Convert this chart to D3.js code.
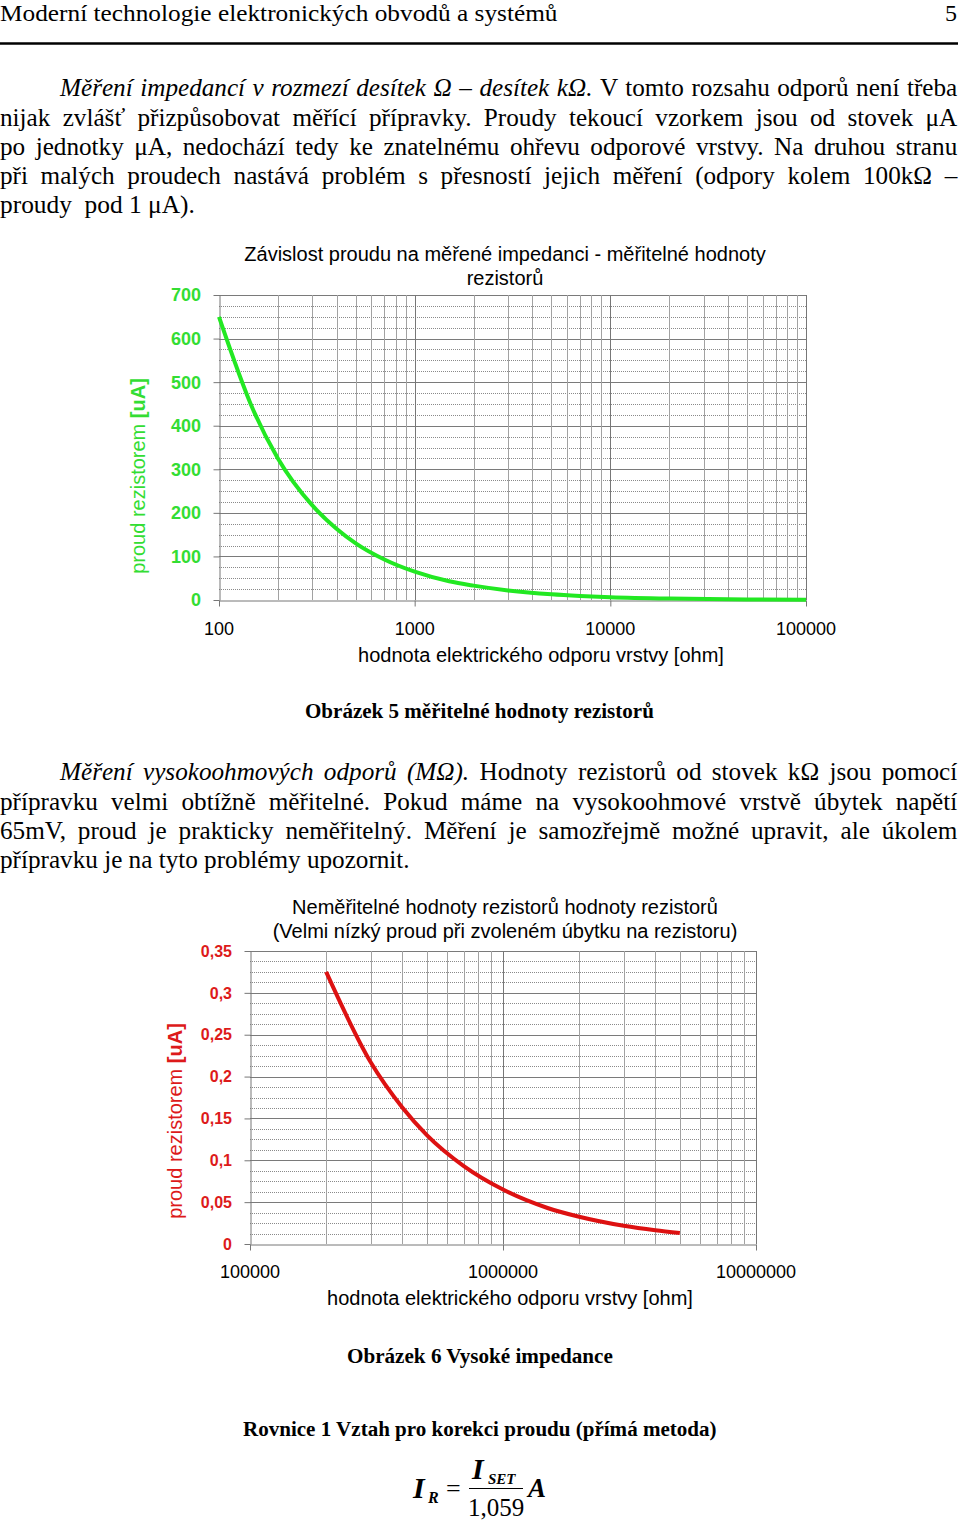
<!DOCTYPE html>
<html><head><meta charset="utf-8">
<script src="https://cdn.jsdelivr.net/npm/d3@7"></script>
<style>body{margin:0;background:#fff}svg{display:block}</style>
</head><body>
<svg id="page" width="960" height="1523"></svg>
<script>
// ---------- data ----------
const c1Resistance = [100,150,200,300,400,500,700,1000,1500,2000,3000,5000,7000,10000,20000,50000,100000];
const c1Current    = [650,435,325,217,163,130,93,65,43,33,22,13,9.3,6.5,3.3,1.3,0.65];
const c1YTicks     = [0,100,200,300,400,500,600,700];
const c1YLabels    = ["0","100","200","300","400","500","600","700"];
const c1XTicks     = [100,1000,10000,100000];
const c1XLabels    = ["100","1000","10000","100000"];

const c2Resistance = [200000,300000,400000,500000,700000,1000000,1500000,2000000,3000000,4000000,5000000];
const c2Current    = [0.325,0.217,0.163,0.13,0.093,0.065,0.043,0.0325,0.0217,0.0163,0.013];
const c2YTicks     = [0,0.05,0.1,0.15,0.2,0.25,0.3,0.35];
const c2YLabels    = ["0","0,05","0,1","0,15","0,2","0,25","0,3","0,35"];
const c2XTicks     = [100000,1000000,10000000];
const c2XLabels    = ["100000","1000000","10000000"];

const headerText = "Moderní technologie elektronických obvodů a systémů";
const para1 = [
  [{t:"Měření impedancí v rozmezí desítek Ω – desítek kΩ.", i:true},{t:" V tomto rozsahu odporů není třeba"}],
  [{t:"nijak zvlášť přizpůsobovat měřící přípravky. Proudy tekoucí vzorkem jsou od stovek μA"}],
  [{t:"po jednotky μA, nedochází tedy ke znatelnému ohřevu odporové vrstvy. Na druhou stranu"}],
  [{t:"při malých proudech nastává problém s přesností jejich měření (odpory kolem 100kΩ –"}],
  [{t:"proudy  pod 1 μA)."}]
];
const para2 = [
  [{t:"Měření vysokoohmových odporů (MΩ).", i:true},{t:" Hodnoty rezistorů od stovek kΩ jsou pomocí"}],
  [{t:"přípravku velmi obtížně měřitelné. Pokud máme na vysokoohmové vrstvě úbytek napětí"}],
  [{t:"65mV, proud je prakticky neměřitelný. Měření je samozřejmě možné upravit, ale úkolem"}],
  [{t:"přípravku je na tyto problémy upozornit."}]
];

// ---------- helpers ----------
const svg = d3.select("#page");
const SERIF = "Liberation Serif, Times New Roman, serif";
const SANS = "Liberation Sans, Arial, sans-serif";

function makeText(parent, spans, size, weight, y, family) {
  const g = parent.append("g");
  const t = g.append("text").attr("font-family", family || SERIF).attr("font-size", size)
    .attr("font-weight", weight || "normal").attr("y", y).attr("fill", "#000")
    .style("white-space", "pre");
  spans.forEach(s => t.append("tspan").attr("font-style", s.i ? "italic" : null).text(s.t));
  return {g, t, w: t.node().getComputedTextLength()};
}
function fitLine(spans, x0, width, y, size, weight) {
  const o = makeText(svg, spans, size, weight, y);
  const sx = width / o.w;
  o.g.attr("transform", `translate(${x0},0) scale(${sx},1)`);
  return sx;
}
let SXG = 1;
function justifyLine(spans, x0, width, y, size) {
  const o = makeText(svg, spans, size, "normal", y);
  const full = spans.map(s => s.t).join("");
  const n = (full.match(/ /g) || []).length;
  let sx = SXG, ws = (width / sx - o.w) / n;
  if (ws < 0) { sx = width / o.w; ws = 0; }
  o.t.attr("word-spacing", ws);
  o.g.attr("transform", `translate(${x0},0) scale(${sx},1)`);
}

// ---------- document text ----------
const BODY = 26;
fitLine([{t:headerText}], 0, 558, 21, 24);
svg.append("text").attr("x", 957).attr("y", 21).attr("text-anchor", "end")
  .attr("font-family", SERIF).attr("font-size", 24).text("5");
svg.append("line").attr("x1", 0).attr("x2", 958).attr("y1", 43.5).attr("y2", 43.5)
  .attr("stroke", "#000").attr("stroke-width", 2.5);

const p2Base = [780, 810, 839, 868];
SXG = fitLine(para2[3], 0, 410, p2Base[3], BODY);

const p1Base = [96, 126, 155, 184, 213];
justifyLine(para1[0], 60, 898, p1Base[0], BODY);
justifyLine(para1[1], 0, 958, p1Base[1], BODY);
justifyLine(para1[2], 0, 958, p1Base[2], BODY);
justifyLine(para1[3], 0, 958, p1Base[3], BODY);
fitLine(para1[4], 0, 195, p1Base[4], BODY);

fitLine([{t:"Obrázek 5 měřitelné hodnoty rezistorů"}], 305, 349, 718, 20, "bold");

justifyLine(para2[0], 60, 898, p2Base[0], BODY);
justifyLine(para2[1], 0, 958, p2Base[1], BODY);
justifyLine(para2[2], 0, 958, p2Base[2], BODY);

fitLine([{t:"Obrázek 6 Vysoké impedance"}], 347, 266, 1363, 20, "bold");
fitLine([{t:"Rovnice 1 Vztah pro korekci proudu (přímá metoda)"}], 243, 474, 1436, 20, "bold");

// equation
const eq = svg.append("g").attr("font-family", SERIF);
eq.append("text").attr("x", 413).attr("y", 1498).attr("font-size", 30).attr("font-weight", "bold").attr("font-style", "italic").text("I");
eq.append("text").attr("x", 428).attr("y", 1503).attr("font-size", 16).attr("font-weight", "bold").attr("font-style", "italic").text("R");
eq.append("text").attr("x", 446).attr("y", 1497).attr("font-size", 26).text("=");
eq.append("text").attr("x", 472).attr("y", 1479).attr("font-size", 30).attr("font-weight", "bold").attr("font-style", "italic").text("I");
eq.append("text").attr("x", 488).attr("y", 1484).attr("font-size", 15).attr("font-weight", "bold").attr("font-style", "italic").text("SET");
eq.append("line").attr("x1", 469).attr("x2", 523).attr("y1", 1488.5).attr("y2", 1488.5).attr("stroke", "#000").attr("stroke-width", 1.2);
eq.append("text").attr("x", 496).attr("y", 1516).attr("font-size", 25).attr("text-anchor", "middle").text("1,059");
eq.append("text").attr("x", 528).attr("y", 1497).attr("font-size", 27).attr("font-weight", "bold").attr("font-style", "italic").text("A");

// ---------- charts ----------
function drawChart(cfg) {
  const g = svg.append("g");
  const x = d3.scaleLog().domain(cfg.xDomain).range([cfg.left, cfg.right]);
  const y = d3.scaleLinear().domain([0, cfg.yMax]).range([cfg.bottom, cfg.top]);
  const crisp = v => Math.round(v) + 0.5;

  const nMinor = Math.round(cfg.yMax / cfg.yMinor);
  const per = Math.round(cfg.yMajor / cfg.yMinor);
  for (let i = 1; i <= nMinor; i++) {
    const v = i * cfg.yMinor, yy = crisp(y(v));
    const major = i % per === 0;
    g.append("line").attr("x1", cfg.left).attr("x2", cfg.right).attr("y1", yy).attr("y2", yy)
      .attr("stroke", major ? "#7a7a7a" : "#8a8a8a").attr("stroke-width", 1)
      .attr("stroke-dasharray", major ? null : "1,1");
  }
  const e0 = Math.round(Math.log10(cfg.xDomain[0])), e1 = Math.round(Math.log10(cfg.xDomain[1]));
  for (let e = e0; e <= e1; e++) {
    for (let k = 1; k <= 9; k++) {
      const v = k * Math.pow(10, e);
      if (v > cfg.xDomain[1] * 1.0001) break;
      if (e === e0 && k === 1) continue;
      const xx = crisp(x(v));
      g.append("line").attr("x1", xx).attr("x2", xx).attr("y1", cfg.top).attr("y2", cfg.bottom)
        .attr("stroke", k === 1 ? "#777" : "#a2a2a2").attr("stroke-width", 1);
    }
  }
  const ya = g.append("g").attr("transform", `translate(${crisp(cfg.left)},0)`)
    .call(d3.axisLeft(y).tickValues(cfg.yTicks).tickSize(6).tickFormat("").tickSizeOuter(0));
  ya.select(".domain").attr("stroke", "#777");
  ya.selectAll(".tick line").attr("stroke", "#777");
  const xa = g.append("g").attr("transform", `translate(0,${crisp(cfg.bottom)})`)
    .call(d3.axisBottom(x).tickValues(cfg.xTicks).tickSize(6).tickFormat("").tickSizeOuter(0));
  xa.select(".domain").attr("stroke", "#777");
  xa.selectAll(".tick line").attr("stroke", "#777");

  g.selectAll(".ylab").data(cfg.yTicks).enter().append("text")
    .attr("x", cfg.left - 18).attr("y", d => y(d)).attr("dy", "0.36em")
    .attr("text-anchor", "end").attr("font-family", SANS).attr("font-weight", "bold")
    .attr("font-size", cfg.yLabSize).attr("fill", cfg.labColor)
    .text((d, i) => cfg.yLabels[i]);
  g.selectAll(".xlab").data(cfg.xTicks).enter().append("text")
    .attr("x", d => x(d)).attr("y", cfg.bottom + cfg.xLabOff)
    .attr("text-anchor", "middle").attr("font-family", SANS).attr("font-size", 18).attr("fill", "#000")
    .text((d, i) => cfg.xLabels[i]);
  g.append("text").attr("x", cfg.xTitleX).attr("y", cfg.bottom + cfg.xTitleOff)
    .attr("text-anchor", "middle").attr("font-family", SANS).attr("font-size", 20).attr("fill", "#000")
    .text("hodnota elektrického odporu vrstvy [ohm]");
  const yt = g.append("text").attr("transform", `translate(${cfg.yTitleX},${cfg.yTitleY}) rotate(-90)`)
    .attr("text-anchor", "middle").attr("font-family", SANS).attr("font-size", 20).attr("fill", cfg.labColor);
  yt.append("tspan").text("proud rezistorem ");
  yt.append("tspan").attr("font-weight", "bold").text("[uA]");
  cfg.title.forEach((t, i) => {
    g.append("text").attr("x", cfg.titleX).attr("y", cfg.titleY + i * 24)
      .attr("text-anchor", "middle").attr("font-family", SANS).attr("font-size", 20).attr("fill", "#000").text(t);
  });
  const pts = cfg.rs.map((r, i) => ({r, v: cfg.vs[i]}));
  g.append("path").datum(pts)
    .attr("d", d3.line().x(d => x(d.r)).y(d => y(d.v)).curve(d3.curveMonotoneX))
    .attr("fill", "none").attr("stroke", cfg.lineColor).attr("stroke-width", 4)
    .attr("stroke-linecap", "butt").attr("stroke-linejoin", "round");
}

drawChart({
  xDomain: [100, 100000], left: 219, right: 806, top: 295, bottom: 600,
  yMax: 700, yMajor: 100, yMinor: 25, yTicks: c1YTicks, yLabels: c1YLabels,
  xTicks: c1XTicks, xLabels: c1XLabels, yLabSize: 18,
  labColor: "#33dd33", lineColor: "#22e822",
  xLabOff: 35, xTitleOff: 62, xTitleX: 541,
  yTitleX: 145, yTitleY: 476,
  title: ["Závislost proudu na měřené impedanci - měřitelné hodnoty", "rezistorů"],
  titleX: 505, titleY: 261,
  rs: c1Resistance, vs: c1Current
});

drawChart({
  xDomain: [100000, 10000000], left: 250, right: 756, top: 951, bottom: 1244,
  yMax: 0.35, yMajor: 0.05, yMinor: 0.0125, yTicks: c2YTicks, yLabels: c2YLabels,
  xTicks: c2XTicks, xLabels: c2XLabels, yLabSize: 16,
  labColor: "#dd1a1a", lineColor: "#dd1111",
  xLabOff: 34, xTitleOff: 61, xTitleX: 510,
  yTitleX: 182, yTitleY: 1121,
  title: ["Neměřitelné hodnoty rezistorů hodnoty rezistorů", "(Velmi nízký proud při zvoleném úbytku na rezistoru)"],
  titleX: 505, titleY: 914,
  rs: c2Resistance, vs: c2Current
});
</script>
</body></html>
